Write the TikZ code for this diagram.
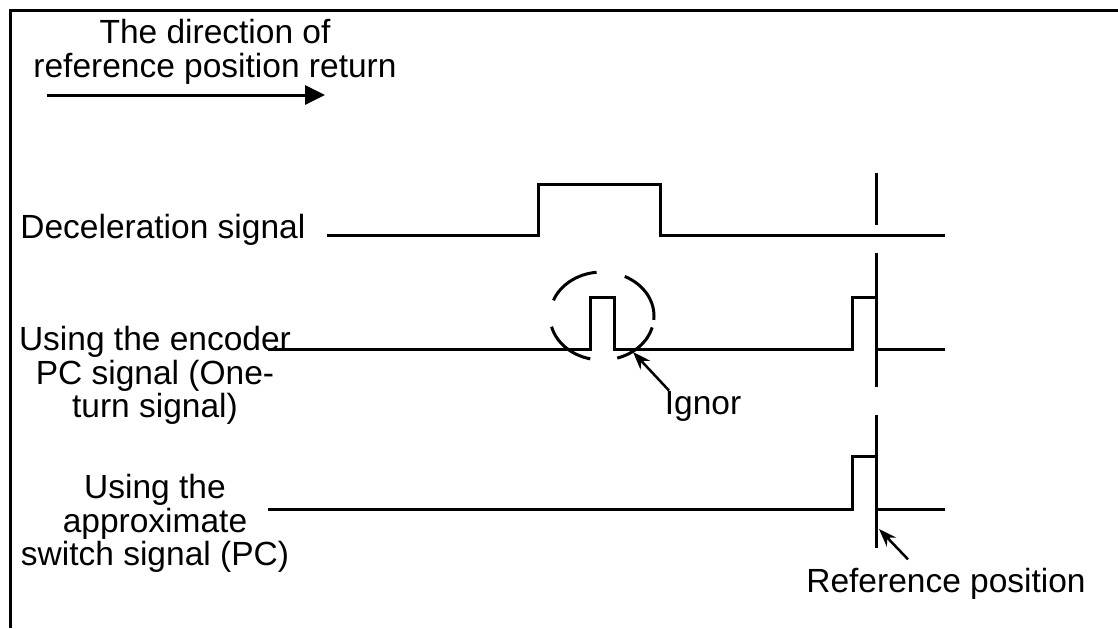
\documentclass[tikz,border=0pt]{standalone}
\usepackage{fontspec}
\setmainfont{Liberation Sans}
\usetikzlibrary{arrows.meta,positioning,calc}

\begin{document}
\begin{tikzpicture}[
				x=0.5pt, y=0.5pt,
				lbl/.style={inner sep=0pt, align=center, font=\fontsize{16.75pt}{16.75pt}\selectfont},
				signal/.style={line width=1.5pt},
				pointer/.style={line width=1.25pt, -{Stealth[length=9pt, width=6.5pt]}},
				dirarrow/.style={line width=1.5pt, -{Triangle[length=10pt, width=9.5pt]}}
				]
				\useasboundingbox (0,0) rectangle (1118,-628);
				\draw [line width=1.5pt] (10,-628) -- (10,-10) -- (1118,-10);
				
				% labels
				\node (dir) [lbl, anchor=north] at (215,-19) {The direction of\\reference position return};
				\node (dec) [lbl, anchor=base west] at (20,-238) {Deceleration signal};
				\node (enc) [lbl, anchor=north] at (155,-326) {Using the encoder\\PC signal (One-\\turn signal)};
				\node (apx) [lbl, anchor=north] at (155,-474) {Using the\\approximate\\switch signal (PC)};
				\node (ignor) [lbl, anchor=base west] at (664.5,-414) {Ignor};
				\node (refpos) [lbl, anchor=base] at (946,-592) {Reference position};
				
				\coordinate (dirA) at (47,-95);
				\coordinate (dirB) at (325,-95);
				\draw [dirarrow] (dirA) -- (dirB);
				
				% waveforms
				\draw [signal] (327,-235) -- (538,-235) -- (538,-184) -- (660,-184) -- (660,-235) -- (945,-235);
				\draw [signal] (268,-349) -- (590,-349) -- (590,-297) -- (614,-297) -- (614,-349) -- (852,-349) -- (852,-297) -- (876,-297);
				\draw [signal] (876,-349) -- (945,-349);
				\draw [signal] (268,-509) -- (852,-509) -- (852,-456) -- (876,-456);
				\draw [signal] (876,-509) -- (945,-509);
				
				% reference position line
				\draw [signal] (876,-173) -- (876,-225);
				\draw [signal] (876,-253) -- (876,-387);
				\draw [signal] (876,-415) -- (876,-548);
				
				% ignored pulse
				\coordinate (ign) at (602,-316);
				\foreach \a/\b in {96/159, 194/257, 287/345, -5/64}
					\draw [signal] (ign) ++(\a:52 and 44) arc[start angle=\a, end angle=\b, x radius=52, y radius=44];
				\coordinate (ignTip) at (633,-352);
				\draw [pointer] ([xshift=2.25pt]ignor.north west) -- (ignTip);
				
				\coordinate (refTip) at (879,-529);
				\draw [pointer] ([shift={(-38,8)}]refpos.north) -- (refTip);
			\end{tikzpicture}
\end{document}
